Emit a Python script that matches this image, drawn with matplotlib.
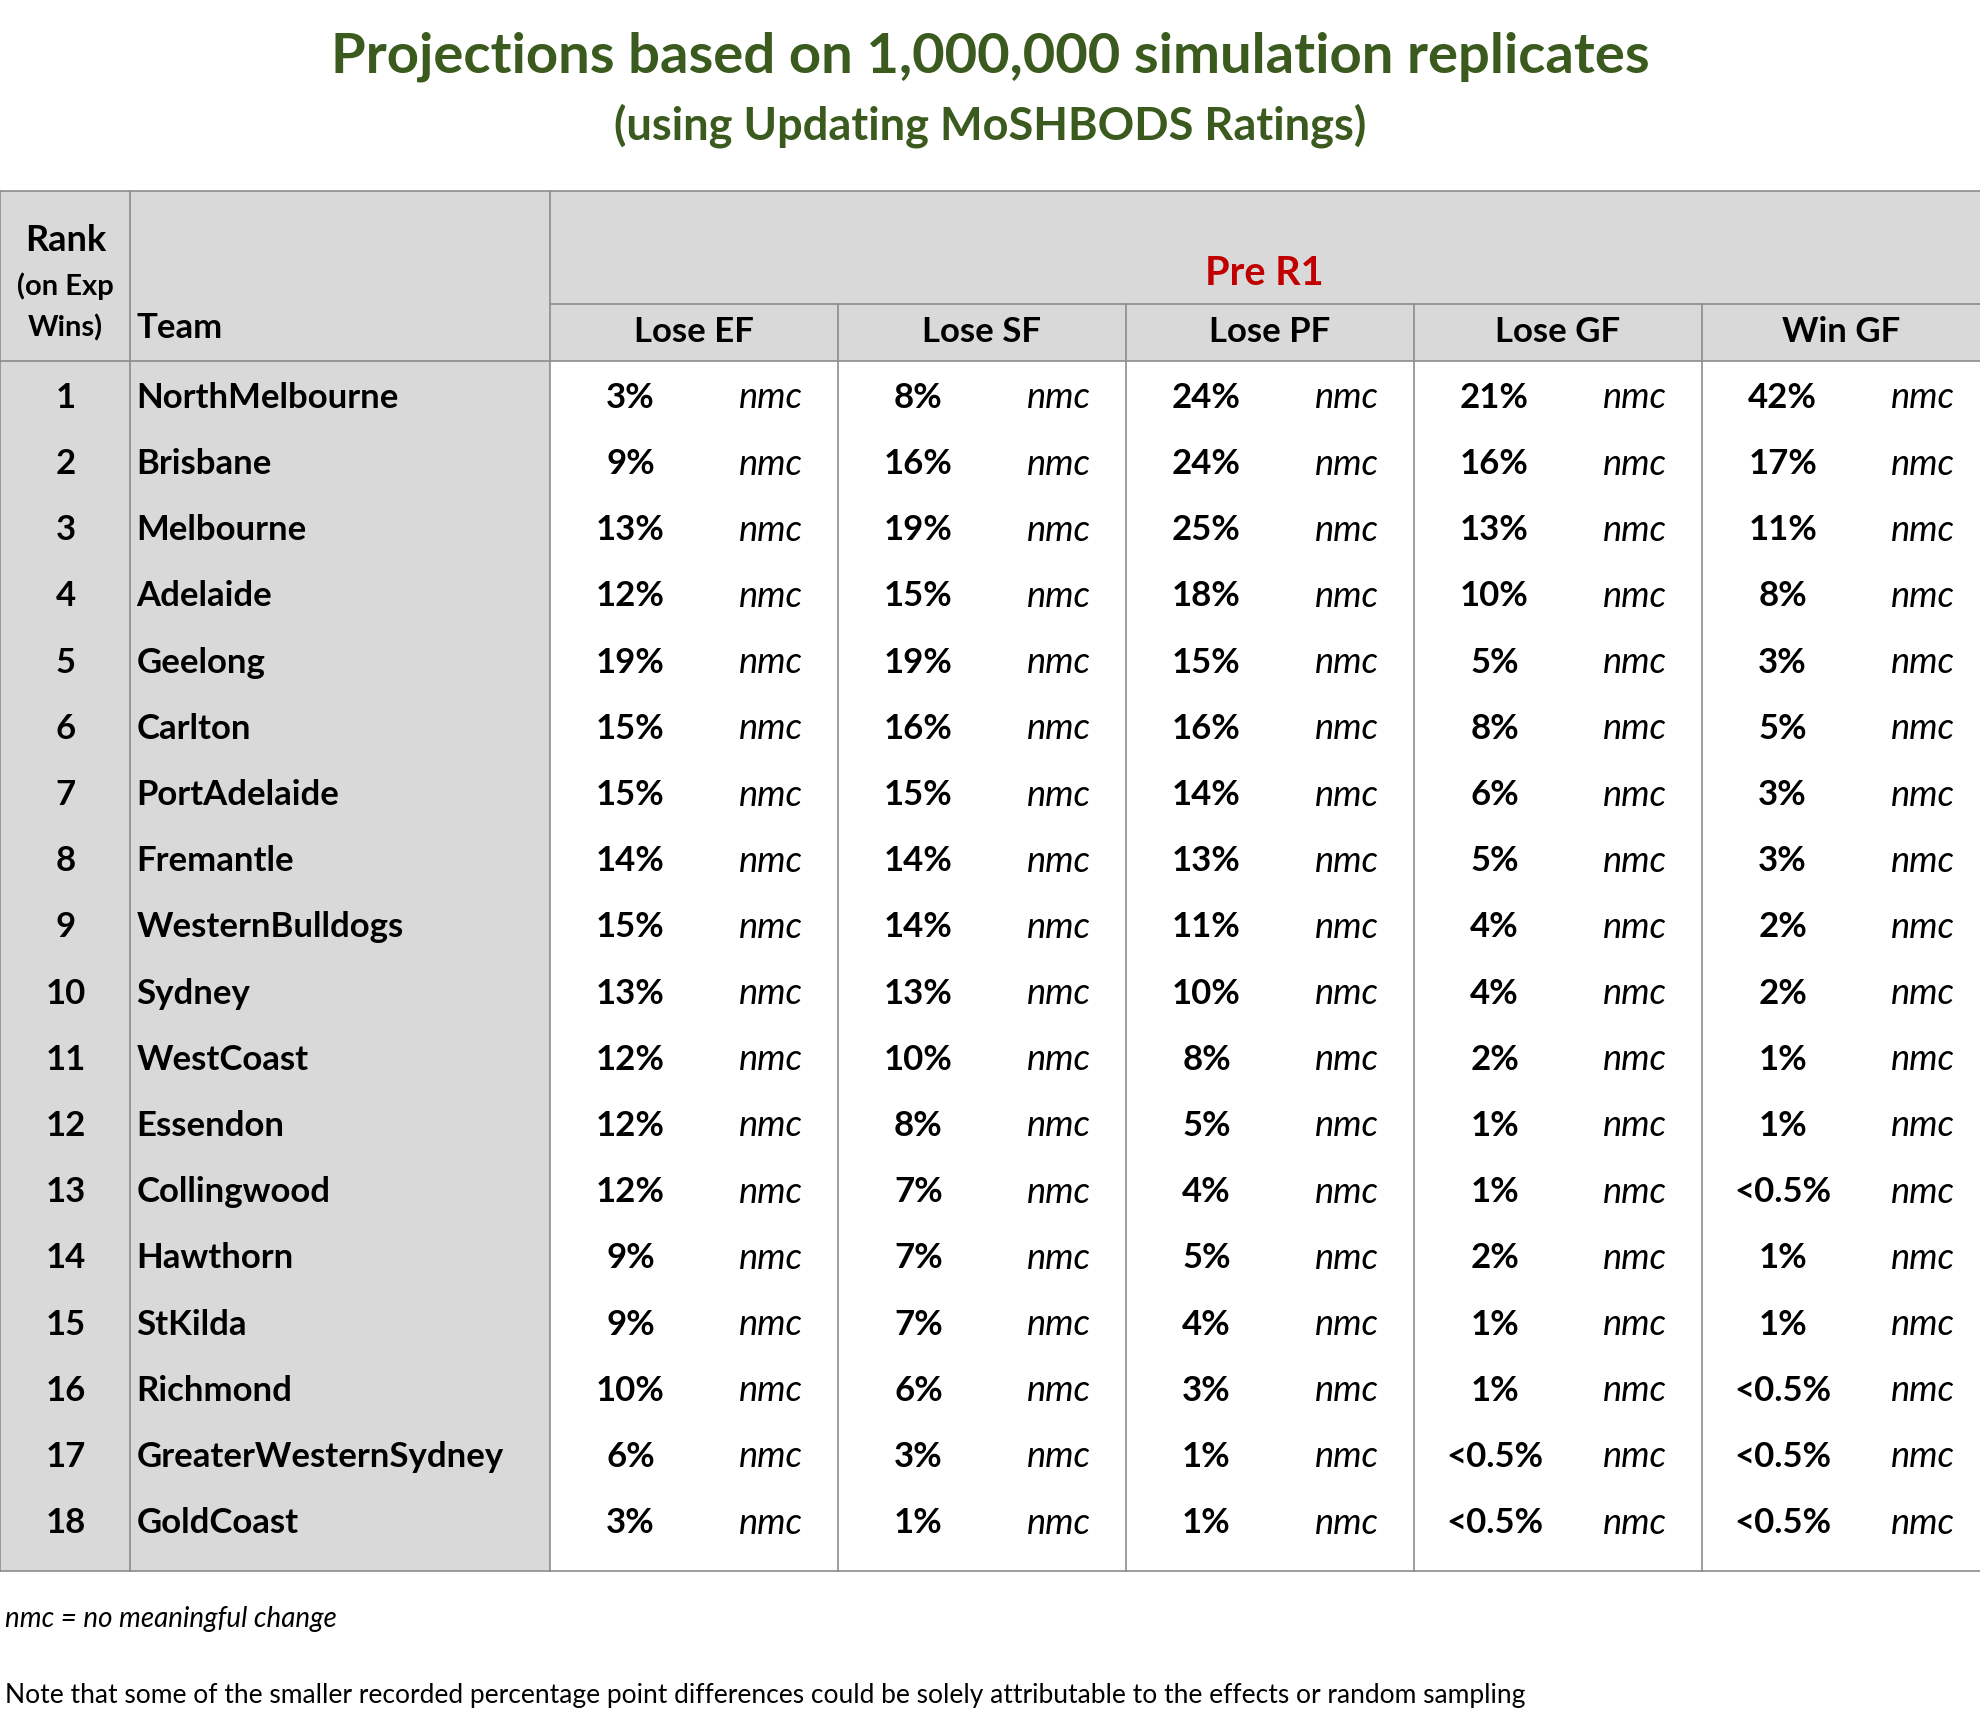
import matplotlib
matplotlib.use("Agg")
import matplotlib.pyplot as plt
from matplotlib.patches import Rectangle

teams = ["NorthMelbourne","Brisbane","Melbourne","Adelaide","Geelong","Carlton","PortAdelaide",
         "Fremantle","WesternBulldogs","Sydney","WestCoast","Essendon","Collingwood","Hawthorn",
         "StKilda","Richmond","GreaterWesternSydney","GoldCoast"]
ranks = list(range(1, 19))
stages = ["Lose EF", "Lose SF", "Lose PF", "Lose GF", "Win GF"]
lose_ef = ["3%","9%","13%","12%","19%","15%","15%","14%","15%","13%","12%","12%","12%","9%","9%","10%","6%","3%"]
lose_sf = ["8%","16%","19%","15%","19%","16%","15%","14%","14%","13%","10%","8%","7%","7%","7%","6%","3%","1%"]
lose_pf = ["24%","24%","25%","18%","15%","16%","14%","13%","11%","10%","8%","5%","4%","5%","4%","3%","1%","1%"]
lose_gf = ["21%","16%","13%","10%","5%","8%","6%","5%","4%","4%","2%","1%","1%","2%","1%","1%","<0.5%","<0.5%"]
win_gf = ["42%","17%","11%","8%","3%","5%","3%","3%","2%","2%","1%","1%","<0.5%","1%","1%","<0.5%","<0.5%","<0.5%"]
columns = [lose_ef, lose_sf, lose_pf, lose_gf, win_gf]
change = "nmc"

FONT = "Lato"
GREEN = "#3a5a1e"
RED = "#c00000"
GRAY = "#d9d9d9"
LINE = "#8c8c8c"

fig = plt.figure(figsize=(19.81, 17.17), dpi=100)
ax = fig.add_axes([0, 0, 1, 1])
ax.set_xlim(0, 1568)
ax.set_ylim(1355, 0)
ax.axis("off")

ax.text(784, 45, "Projections based on 1,000,000 simulation replicates", ha="center", va="center",
        fontsize=40.5, fontweight="bold", color=GREEN, family=FONT)
ax.text(784, 99, "(using Updating MoSHBODS Ratings)", ha="center", va="center",
        fontsize=32.5, fontweight="bold", color=GREEN, family=FONT)

top, hdr, band, bottom = 151, 285, 240, 1240
xs = [0, 103, 435, 663, 891, 1119, 1347, 1568]
ax.add_patch(Rectangle((0, top), 1568, hdr - top, facecolor=GRAY, edgecolor="none"))
ax.add_patch(Rectangle((0, hdr), 435, bottom - hdr, facecolor=GRAY, edgecolor="none"))
lw = 1.2
ax.plot([0, 1568], [top, top], color=LINE, lw=lw)
ax.plot([0, 1568], [hdr, hdr], color=LINE, lw=lw)
ax.plot([0, 1568], [bottom, bottom], color=LINE, lw=lw)
ax.plot([435, 1568], [band, band], color=LINE, lw=lw)
for i, x in enumerate(xs):
    y0 = band if 3 <= i <= 6 else top
    ax.plot([x, x], [y0, bottom], color=LINE, lw=lw)

fs = 25
ax.text(52, 190, "Rank", ha="center", va="center", fontsize=26, fontweight="bold", family=FONT)
ax.text(52, 226, "(on Exp", ha="center", va="center", fontsize=21, fontweight="bold", family=FONT)
ax.text(52, 259, "Wins)", ha="center", va="center", fontsize=21, fontweight="bold", family=FONT)
ax.text(108, 259, "Team", ha="left", va="center", fontsize=fs, fontweight="bold", family=FONT)
ax.text(1001, 216, "Pre R1", ha="center", va="center", fontsize=28.5, fontweight="bold", color=RED, family=FONT)
for j, s in enumerate(stages):
    ax.text((xs[j + 2] + xs[j + 3]) / 2, 262, s, ha="center", va="center",
            fontsize=fs, fontweight="bold", family=FONT)

for i in range(18):
    y = 314 + i * (1202 - 314) / 17
    ax.text(52, y, str(ranks[i]), ha="center", va="center", fontsize=fs, fontweight="bold", family=FONT)
    ax.text(108, y, teams[i], ha="left", va="center", fontsize=fs, fontweight="bold", family=FONT)
    for j, col in enumerate(columns):
        xl = xs[j + 2]
        ax.text(xl + 64, y, col[i], ha="center", va="center", fontsize=fs, fontweight="bold", family=FONT)
        ax.text(xl + 175, y, change, ha="center", va="center", fontsize=26, style="italic", family=FONT)

ax.text(4, 1278, "nmc = no meaningful change", ha="left", va="center", fontsize=20, style="italic", family=FONT)
ax.text(4, 1338, "Note that some of the smaller recorded percentage point differences could be solely attributable to the effects or random sampling",
        ha="left", va="center", fontsize=19, family=FONT)

fig.savefig("out.png", dpi=100)
